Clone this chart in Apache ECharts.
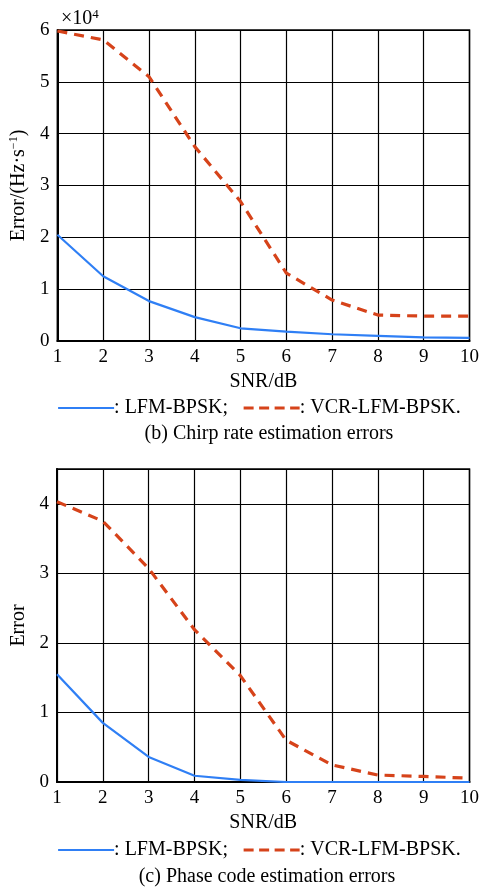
<!DOCTYPE html>
<html>
<head>
<meta charset="utf-8">
<script src="https://cdn.jsdelivr.net/npm/echarts@6/dist/echarts.min.js"></script>
<style>html,body{margin:0;padding:0;background:#fff;}#c{width:482px;height:889px;}</style>
</head>
<body>
<div id="c"></div>
<script>
const snr = [1, 2, 3, 4, 5, 6, 7, 8, 9, 10];
// (b) Chirp rate estimation errors, units of 1e4 Hz/s
const chirpLFM = [2.05, 1.25, 0.77, 0.46, 0.245, 0.18, 0.13, 0.10, 0.07, 0.06];
const chirpVCR = [5.98, 5.81, 5.10, 3.75, 2.69, 1.31, 0.79, 0.50, 0.48, 0.48];
// (c) Phase code estimation errors
const phaseLFM = [1.55, 0.85, 0.36, 0.09, 0.03, 0.0, 0.0, 0.0, 0.0, 0.0];
const phaseVCR = [4.03, 3.75, 3.07, 2.19, 1.53, 0.60, 0.245, 0.10, 0.08, 0.055];
const xTicks = snr;

const BLUE = '#2f7ff5';
const RED = '#d6431a';
const FONT = '"Liberation Serif", "Times New Roman", serif';

function pairs(ys) { return snr.map((x, i) => [x, ys[i]]); }

const xAxisBase = (gi) => ({
  type: 'value', gridIndex: gi, min: 1, max: 10, interval: 1,
  name: 'SNR/dB', nameLocation: 'middle', nameGap: 31,
  nameTextStyle: { color: '#000', fontFamily: FONT, fontSize: 20 },
  axisLine: { show: true, lineStyle: { color: '#000', width: 2 } },
  axisTick: { show: false },
  axisLabel: { color: '#000', fontFamily: FONT, fontSize: 19, margin: 7 },
  splitLine: { show: true, lineStyle: { color: '#000', width: 1.2 } }
});

const legendBase = (top) => ({
  left: 52, top: top, itemWidth: 56, itemHeight: 14, itemGap: 14,
  data: [
    { name: 'LFM-BPSK', lineStyle: { width: 2.2 } },
    { name: 'VCR-LFM-BPSK', lineStyle: { width: 3.2, type: [10, 5.5] } }
  ],
  formatter: n => n === 'LFM-BPSK' ? ': LFM-BPSK;' : ': VCR-LFM-BPSK.',
  textStyle: { color: '#000', fontFamily: FONT, fontSize: 20, padding: [0, 0, 0, -5] },
  itemStyle: { opacity: 0 },
  selectedMode: false
});

const option = {
  animation: false,
  backgroundColor: '#fff',
  textStyle: { fontFamily: FONT },
  grid: [
    { left: 57, right: 10, top: 30, height: 311, show: true, borderColor: '#000', borderWidth: 1.5 },
    { left: 57, right: 10, top: 469, height: 313, show: true, borderColor: '#000', borderWidth: 1.5 }
  ],
  xAxis: [xAxisBase(0), xAxisBase(1)],
  yAxis: [
    {
      type: 'value', gridIndex: 0, min: 0, max: 6, interval: 1,
      name: '{n|Error/(Hz·s}{s|−1}{n|)}', nameLocation: 'middle', nameGap: 27, nameRotate: 90,
      nameTextStyle: { rich: {
        n: { color: '#000', fontFamily: FONT, fontSize: 20 },
        s: { color: '#000', fontFamily: FONT, fontSize: 12, verticalAlign: 'top', padding: [0, 0, 10, 0] }
      } },
      axisLine: { show: true, lineStyle: { color: '#000', width: 2 } },
      axisTick: { show: false },
      axisLabel: { color: '#000', fontFamily: FONT, fontSize: 19, margin: 8 },
      splitLine: { show: true, lineStyle: { color: '#000', width: 1.2 } }
    },
    {
      type: 'value', gridIndex: 1, min: 0, max: 4.5, interval: 1,
      name: 'Error', nameLocation: 'middle', nameGap: 23, nameRotate: 90,
      nameTextStyle: { color: '#000', fontFamily: FONT, fontSize: 20 },
      axisLine: { show: true, lineStyle: { color: '#000', width: 2 } },
      axisTick: { show: false },
      axisLabel: { color: '#000', fontFamily: FONT, fontSize: 19, margin: 8,
        formatter: v => (Number.isInteger(v) ? String(v) : '') },
      splitLine: { show: true, lineStyle: { color: '#000', width: 1.2 } }
    }
  ],
  legend: [legendBase(393), legendBase(835)],
  title: [
    { text: '(b) Chirp rate estimation errors', left: 264, top: 419, textAlign: 'center',
      textStyle: { color: '#000', fontFamily: FONT, fontSize: 20, fontWeight: 'normal' } },
    { text: '(c) Phase code estimation errors', left: 262, top: 862, textAlign: 'center',
      textStyle: { color: '#000', fontFamily: FONT, fontSize: 20, fontWeight: 'normal' } }
  ],
  graphic: [
    { type: 'text', left: 61, top: 8,
      style: { text: '{a|×10}{b|4}', rich: {
        a: { fill: '#000', fontFamily: FONT, fontSize: 20 },
        b: { fill: '#000', fontFamily: FONT, fontSize: 13, verticalAlign: 'top', padding: [0, 0, 8, 0] }
      } } }
  ],
  series: [
    { name: 'LFM-BPSK', type: 'line', xAxisIndex: 0, yAxisIndex: 0, data: pairs(chirpLFM),
      symbol: 'none', smooth: false, lineStyle: { color: BLUE, width: 2.2 }, itemStyle: { color: BLUE } },
    { name: 'VCR-LFM-BPSK', type: 'line', xAxisIndex: 0, yAxisIndex: 0, data: pairs(chirpVCR),
      symbol: 'none', smooth: false, lineStyle: { color: RED, width: 3.2, type: [10, 7] }, itemStyle: { color: RED } },
    { name: 'LFM-BPSK', type: 'line', xAxisIndex: 1, yAxisIndex: 1, data: pairs(phaseLFM),
      symbol: 'none', smooth: false, lineStyle: { color: BLUE, width: 2.2 }, itemStyle: { color: BLUE } },
    { name: 'VCR-LFM-BPSK', type: 'line', xAxisIndex: 1, yAxisIndex: 1, data: pairs(phaseVCR),
      symbol: 'none', smooth: false, lineStyle: { color: RED, width: 3.2, type: [10, 7] }, itemStyle: { color: RED } }
  ]
};

const chart = echarts.init(document.getElementById('c'), null, { renderer: 'canvas' });
chart.setOption(option);
</script>
</body>
</html>
